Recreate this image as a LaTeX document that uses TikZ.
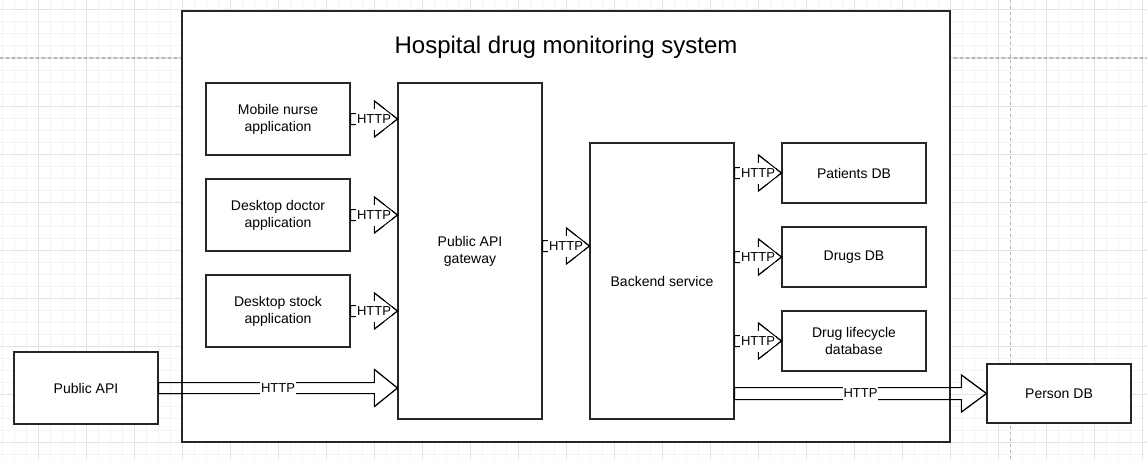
\documentclass[tikz,border=0pt]{standalone}
\usepackage{fontspec}
\setmainfont{Liberation Sans}
\usetikzlibrary{calc}
\definecolor{gridminor}{HTML}{F4F4F4}
\definecolor{gridmajor}{HTML}{E3E3E3}
\definecolor{pageline}{HTML}{B4B4B4}
\definecolor{strokec}{HTML}{262626}
\tikzset{
  box/.style={draw=strokec, line width=1.1pt, fill=white, rectangle, align=center,
    font=\fontsize{14}{17}\selectfont, minimum width=144pt, inner sep=0pt},
  container/.style={draw=strokec, line width=1.1pt, fill=white, rectangle, minimum width=768pt, minimum height=431pt, inner sep=0pt},
  arrline/.style={draw=black, line width=1pt, line join=miter},
  lbl/.style={fill=white, inner xsep=0.6pt, inner ysep=0pt, minimum height=21pt, font=\fontsize{13}{15}\selectfont},
}
\newcommand\flexarr[5]{%
  \draw[arrline] let \p1=(#1), \p2=(#2) in
    (\x1,\y1+#3) -- (\x2-#5,\y1+#3) -- (\x2-#5,\y1+#4) -- (\x2,\y1) --
    (\x2-#5,\y1-#4) -- (\x2-#5,\y1-#3) -- (\x1,\y1-#3) -- cycle;
  \node[lbl] at ($(#1)!0.5!(#2)$) {HTTP};
  \draw[arrline] let \p1=(#1), \p2=(#2) in
    (\x2-#5,\y1+#4) -- (\x2,\y1) -- (\x2-#5,\y1-#4);}
\begin{document}
\begin{tikzpicture}[x=1pt,y=-1pt]
\useasboundingbox (0,0) rectangle (1147,460);
% grid
\foreach \gx in {2,14,...,1146} \draw[gridminor, line width=1pt] (\gx,0) -- (\gx,460);
\foreach \gy in {10,22,...,460} \draw[gridminor, line width=1pt] (0,\gy) -- (1147,\gy);
\foreach \gx in {38,86,...,1146} \draw[gridmajor, line width=1pt] (\gx,0) -- (\gx,460);
\foreach \gy in {10,58,...,460} \draw[gridmajor, line width=1pt] (0,\gy) -- (1147,\gy);
\draw[pageline, line width=1pt, dash pattern=on 3pt off 3pt] (0,58) -- (1147,58);
\draw[pageline, line width=1pt, dash pattern=on 3pt off 3pt] (1010,0) -- (1010,460);
% container
\node[container] (sys) at (566,226.5) {};
\node[font=\fontsize{24}{28}\selectfont] (title) at (566,47) {Hospital drug monitoring system};
% boxes
\node[box, minimum height=72pt] (mn) at (278,119) {Mobile nurse\\application};
\node[box, minimum height=72pt] (dd) at (278,215) {Desktop doctor\\application};
\node[box, minimum height=72pt] (ds) at (278,311) {Desktop stock\\application};
\node[box, minimum height=336pt] (gw) at (470,251) {Public API\\gateway};
\node[box, minimum height=276pt] (be) at (662,281) {Backend service};
\node[box, minimum height=60pt] (pdb) at (854,173) {Patients DB};
\node[box, minimum height=60pt] (drg) at (854,257) {Drugs DB};
\node[box, minimum height=60pt] (ld) at (854,341) {Drug lifecycle\\database};
\node[box, minimum height=72pt] (pa) at (86,388) {Public API};
\node[box, minimum height=59pt] (per) at (1059,393.5) {Person DB};
% connector end points
\coordinate (s1) at (mn.east); \coordinate (e1) at (gw.west |- mn.east);
\coordinate (s2) at (dd.east); \coordinate (e2) at (gw.west |- dd.east);
\coordinate (s3) at (ds.east); \coordinate (e3) at (gw.west |- ds.east);
\coordinate (s4) at ([yshift=5pt]gw.east); \coordinate (e4) at (be.west |- s4);
\coordinate (s5) at (be.east |- pdb.west); \coordinate (e5) at (pdb.west);
\coordinate (s6) at (be.east |- drg.west); \coordinate (e6) at (drg.west);
\coordinate (s7) at (be.east |- ld.west); \coordinate (e7) at (ld.west);
\coordinate (s8) at (pa.east); \coordinate (e8) at (gw.west |- pa.east);
\coordinate (s9) at (be.east |- per.west); \coordinate (e9) at (per.west);
% connectors
\flexarr{s1}{e1}{5.5pt}{18pt}{23pt}
\flexarr{s2}{e2}{5.5pt}{18pt}{23pt}
\flexarr{s3}{e3}{5.5pt}{18pt}{23pt}
\flexarr{s4}{e4}{5.5pt}{18pt}{23pt}
\flexarr{s5}{e5}{5.5pt}{18pt}{23pt}
\flexarr{s6}{e6}{5.5pt}{18pt}{23pt}
\flexarr{s7}{e7}{5.5pt}{18pt}{23pt}
\flexarr{s8}{e8}{5.5pt}{18.5pt}{23pt}
\flexarr{s9}{e9}{6pt}{18.5pt}{25pt}
\end{tikzpicture}
\end{document}
